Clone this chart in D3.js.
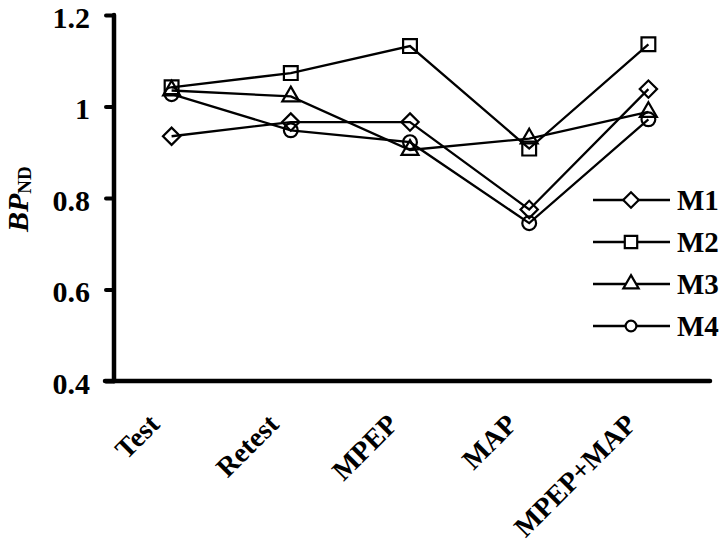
<!DOCTYPE html>
<html>
<head>
<meta charset="utf-8">
<script src="https://cdn.jsdelivr.net/npm/d3@7/dist/d3.min.js"></script>
<style>
  body { margin: 0; background: #fff; }
  svg { display: block; }
  text { font-family: "Liberation Serif", "Times New Roman", serif; font-weight: bold; fill: #000; }
</style>
</head>
<body>
<svg id="chart" width="720" height="548"></svg>
<script>
const categories = ["Test", "Retest", "MPEP", "MAP", "MPEP+MAP"];
const seriesNames = ["M1", "M2", "M3", "M4"];
const m1 = [0.935, 0.966, 0.966, 0.775, 1.038];
const m2 = [1.042, 1.073, 1.132, 0.908, 1.136];
const m3 = [1.035, 1.022, 0.905, 0.930, 0.988];
const m4 = [1.027, 0.948, 0.922, 0.745, 0.972];
const yTicks = [0.4, 0.6, 0.8, 1, 1.2];

const seriesValues = [m1, m2, m3, m4];
const symbolTypes = ["diamond", "square", "triangle", "circle"];

const svg = d3.select("#chart");
const yAxisX = 114, xAxisY = 381, yTop = 15;
const FONT = '"Liberation Serif", "Times New Roman", serif';

const x = d3.scalePoint().domain(categories).range([112, 708]).padding(0.5);
const y = d3.scaleLinear().domain([0.4, 1.2]).range([xAxisY, yTop]);

function markerPath(type, legend) {
  const k = legend ? 0.9 : 1;
  if (type === "diamond") return d3.symbol().type(d3.symbolSquare).size(150 * k * k)();
  if (type === "square") return d3.symbol().type(d3.symbolSquare).size(190 * k * k)();
  if (type === "triangle") return d3.symbol().type(d3.symbolTriangle).size(125 * k * k)();
  return d3.symbol().type(d3.symbolCircle).size(150 * k * k * (legend ? 0.75 : 1))();
}
function markerTransform(type, px, py) {
  return type === "diamond" ? `translate(${px},${py}) rotate(45)` : `translate(${px},${py})`;
}

// Y axis
const yAxis = d3.axisLeft(y).tickValues(yTicks).tickSize(8).tickPadding(16)
  .tickFormat(d => d === 1 ? "1" : d3.format(".1f")(d));
const gy = svg.append("g").attr("transform", `translate(${yAxisX},0)`).call(yAxis);
gy.select(".domain").remove();
gy.selectAll(".tick line").attr("stroke", "#000").attr("stroke-width", 4).attr("stroke-linecap", "round");
gy.selectAll(".tick text").attr("dy", "0.4em").style("font-size", "30px").style("font-family", FONT).style("font-weight", "bold");
svg.append("line").attr("x1", yAxisX).attr("x2", yAxisX).attr("y1", y(1.2)).attr("y2", xAxisY)
  .attr("stroke", "#000").attr("stroke-width", 4.5).attr("stroke-linecap", "round");

// X axis
const xAxis = d3.axisBottom(x).tickSize(0).tickPadding(0);
const gx = svg.append("g").attr("transform", `translate(0,${xAxisY})`).call(xAxis);
gx.select(".domain").remove();
gx.selectAll(".tick text")
  .attr("text-anchor", "end")
  .attr("dy", 0)
  .attr("transform", "translate(-11,45) rotate(-45)")
  .style("font-size", "28px").style("font-family", FONT).style("font-weight", "bold");
svg.append("line").attr("x1", 105).attr("x2", 710).attr("y1", xAxisY).attr("y2", xAxisY)
  .attr("stroke", "#000").attr("stroke-width", 4.5).attr("stroke-linecap", "round");

// Y label
const yl = svg.append("text").attr("transform", "translate(28,232) rotate(-90)")
  .attr("text-anchor", "start").style("font-size", "30px");
yl.append("tspan").text("BP").style("font-style", "italic");
yl.append("tspan").text("ND").style("font-size", "19px").attr("dy", 3);

// Lines
const line = d3.line().x((d, i) => x(categories[i])).y(d => y(d));
seriesValues.forEach((vals) => {
  svg.append("path").datum(vals).attr("d", line)
    .attr("fill", "none").attr("stroke", "#000").attr("stroke-width", 2.3);
});
seriesValues.forEach((vals, si) => {
  const t = symbolTypes[si];
  svg.append("g").selectAll("path").data(vals).join("path")
    .attr("d", markerPath(t, false))
    .attr("transform", (d, i) => markerTransform(t, x(categories[i]), y(d)))
    .attr("fill", "none").attr("stroke", "#000").attr("stroke-width", 2.2);
});

// Legend
const legend = svg.append("g");
seriesNames.forEach((name, i) => {
  const ly = 200 + i * 42;
  const t = symbolTypes[i];
  legend.append("line").attr("x1", 593).attr("x2", 670).attr("y1", ly).attr("y2", ly)
    .attr("stroke", "#000").attr("stroke-width", 2.3);
  legend.append("path").attr("d", markerPath(t, true)).attr("transform", markerTransform(t, 631, ly))
    .attr("fill", "#fff").attr("stroke", "#000").attr("stroke-width", 2.2);
  legend.append("text").attr("x", 677).attr("y", ly + 10).style("font-size", "29px").text(name);
});
</script>
</body>
</html>
